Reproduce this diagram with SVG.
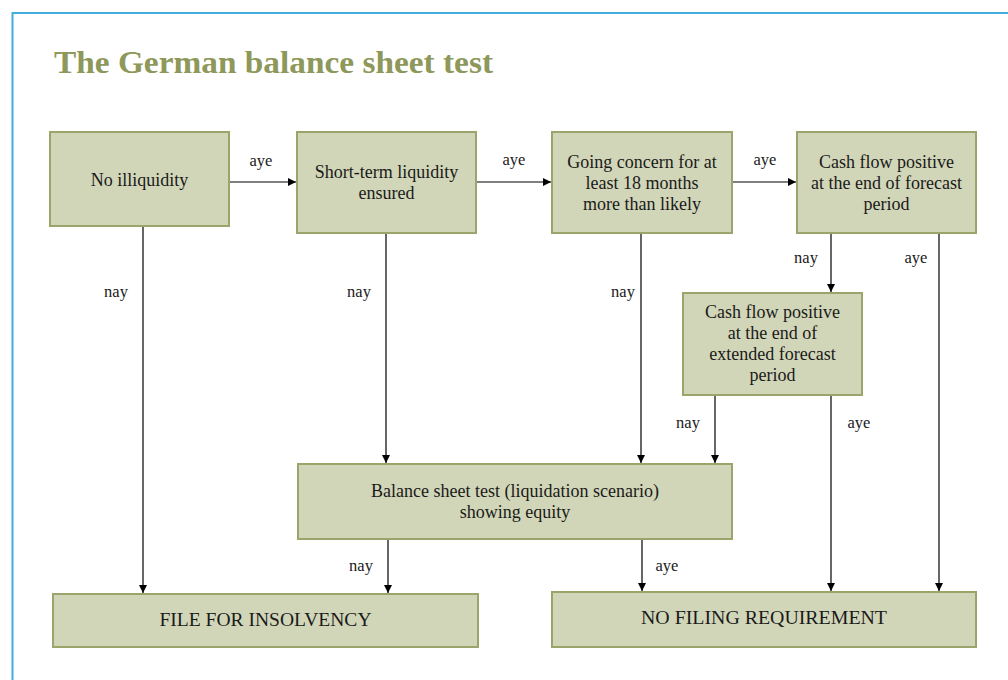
<svg xmlns="http://www.w3.org/2000/svg" width="1008" height="680" viewBox="0 0 1008 680">
<defs>
<marker id="ah" viewBox="0 0 10 10" refX="10" refY="5" markerWidth="8" markerHeight="8" markerUnits="userSpaceOnUse" orient="auto"><path d="M0,0 L10,5 L0,10 z" fill="#000"/></marker>
<style>
.box{fill:#d2d6b8;stroke:#9ba46a;stroke-width:2}
.t{font-family:"Liberation Serif",serif;font-size:18px;fill:#1a1a1a;text-anchor:middle}
.lb{font-family:"Liberation Serif",serif;font-size:16.5px;fill:#1a1a1a;text-anchor:middle}
.c{stroke:#000;stroke-width:1.2;fill:none;marker-end:url(#ah)}
.title{font-family:"Liberation Serif",serif;font-size:32px;font-weight:bold;fill:#8d985a}
</style>
</defs>
<rect x="0" y="0" width="1008" height="680" fill="#fff"/>
<rect x="12.5" y="13" width="1010" height="700" fill="none" stroke="#43ade0" stroke-width="2"/>
<text class="title" x="54" y="73" textLength="439" lengthAdjust="spacingAndGlyphs">The German balance sheet test</text>

<g id="connectors">
<line class="c" x1="229" y1="182" x2="296" y2="182"/>
<line class="c" x1="476" y1="182" x2="551" y2="182"/>
<line class="c" x1="732" y1="182" x2="796" y2="182"/>
<line class="c" x1="143" y1="226" x2="143" y2="593"/>
<line class="c" x1="386" y1="233" x2="386" y2="463"/>
<line class="c" x1="641" y1="233" x2="641" y2="463"/>
<line class="c" x1="831" y1="233" x2="831" y2="292"/>
<line class="c" x1="939" y1="233" x2="939" y2="591"/>
<line class="c" x1="715" y1="395" x2="715" y2="463"/>
<line class="c" x1="831" y1="395" x2="831" y2="591"/>
<line class="c" x1="388" y1="539" x2="388" y2="593"/>
<line class="c" x1="642" y1="539" x2="642" y2="591"/>
<text class="lb" x="261" y="166">aye</text>
<text class="lb" x="514" y="165">aye</text>
<text class="lb" x="765" y="165">aye</text>
<text class="lb" x="116" y="297">nay</text>
<text class="lb" x="359" y="297">nay</text>
<text class="lb" x="623" y="297">nay</text>
<text class="lb" x="806" y="263">nay</text>
<text class="lb" x="916" y="263">aye</text>
<text class="lb" x="688" y="428">nay</text>
<text class="lb" x="859" y="428">aye</text>
<text class="lb" x="361" y="571">nay</text>
<text class="lb" x="667" y="571">aye</text>
</g>

<g id="n1"><rect class="box" x="50" y="132" width="179" height="94"/><text class="t" x="139.5" y="186">No illiquidity</text></g>
<g id="n2"><rect class="box" x="297" y="132" width="179" height="101"/><text class="t" x="386.5" y="178">Short-term liquidity</text><text class="t" x="386.5" y="199">ensured</text></g>
<g id="n3"><rect class="box" x="552" y="132" width="180" height="101"/><text class="t" x="642" y="168">Going concern for at</text><text class="t" x="642" y="189">least 18 months</text><text class="t" x="642" y="210">more than likely</text></g>
<g id="n4"><rect class="box" x="797" y="132" width="179" height="101"/><text class="t" x="886.5" y="168">Cash flow positive</text><text class="t" x="886.5" y="189">at the end of forecast</text><text class="t" x="886.5" y="210">period</text></g>
<g id="n5"><rect class="box" x="683" y="293" width="179" height="102"/><text class="t" x="772.5" y="318">Cash flow positive</text><text class="t" x="772.5" y="339">at the end of</text><text class="t" x="772.5" y="360">extended forecast</text><text class="t" x="772.5" y="381">period</text></g>
<g id="n6"><rect class="box" x="298" y="464" width="434" height="75"/><text class="t" x="515" y="497">Balance sheet test (liquidation scenario)</text><text class="t" x="515" y="518">showing equity</text></g>
<g id="n7"><rect class="box" x="53" y="594" width="425" height="53"/><text class="t" x="265.5" y="626" font-size="17" textLength="212" lengthAdjust="spacingAndGlyphs">FILE FOR INSOLVENCY</text></g>
<g id="n8"><rect class="box" x="552" y="592" width="424" height="55"/><text class="t" x="764" y="624" font-size="17" textLength="246" lengthAdjust="spacingAndGlyphs">NO FILING REQUIREMENT</text></g>
</svg>
